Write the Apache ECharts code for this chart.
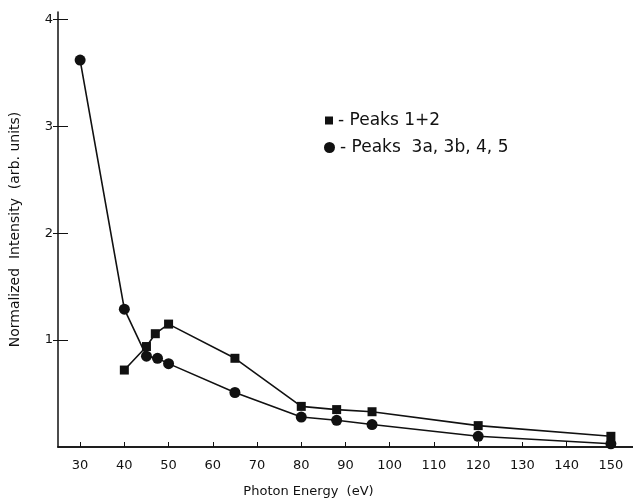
<!DOCTYPE html>
<html lang="en">
<head>
    <meta charset="UTF-8">
    <title>Normalized Intensity vs Photon Energy</title>
    <style>
        html, body {
            margin: 0;
            padding: 0;
            background: #ffffff;
        }
        #chart {
            width: 633px;
            height: 503px;
        }
    </style>
    <script src="https://cdn.jsdelivr.net/npm/echarts@6/dist/echarts.min.js"></script>
</head>
<body>
    <div id="chart"></div>
    <script>
        // Peaks 1+2 (squares)
        const peaks12Energy = [40, 45, 47, 50, 65, 80, 88, 96, 120, 150];
        const peaks12Value = [0.72, 0.94, 1.06, 1.15, 0.83, 0.38, 0.35, 0.33, 0.20, 0.10];
        // Peaks 3a, 3b, 4, 5 (circles)
        const peaks3Energy = [30, 40, 45, 47.5, 50, 65, 80, 88, 96, 120, 150];
        const peaks3Value = [3.62, 1.29, 0.85, 0.83, 0.78, 0.51, 0.28, 0.25, 0.21, 0.10, 0.03];
        // tick labels
        const xTicks = [30, 40, 50, 60, 70, 80, 90, 100, 110, 120, 130, 140, 150];
        const yTicks = [1, 2, 3, 4];

        const font = 'DejaVu Sans';
        const ink = '#111';

        const zip = (xs, ys) => xs.map((x, i) => [x, ys[i]]);

        const chart = echarts.init(document.getElementById('chart'));
        chart.setOption({
            backgroundColor: '#ffffff',
            animation: false,
            grid: { left: 56, right: 0, top: 12, bottom: 47 },
            legend: [
                {
                    left: 320, top: 107, orient: 'vertical',
                    itemWidth: 8, itemHeight: 8,
                    textStyle: { fontFamily: font, fontSize: 17, color: ink },
                    data: [{ name: 'Peaks 1+2', icon: 'rect' }],
                    formatter: n => '- ' + n
                },
                {
                    left: 319, top: 134, orient: 'vertical',
                    itemWidth: 11, itemHeight: 11,
                    textStyle: { fontFamily: font, fontSize: 17, color: ink },
                    data: [{ name: 'Peaks  3a, 3b, 4, 5', icon: 'circle' }],
                    formatter: n => '- ' + n
                }
            ],
            xAxis: [
                {
                    type: 'value', min: 25, max: 155,
                    name: 'Photon Energy  (eV)',
                    nameLocation: 'middle', nameGap: 38,
                    nameTextStyle: { fontFamily: font, fontSize: 13, color: ink, padding: [0, 74, 0, 0] },
                    splitLine: { show: false },
                    axisLine: { lineStyle: { color: ink, width: 1.5 } },
                    axisTick: { inside: true, length: 5, customValues: xTicks, lineStyle: { color: ink } },
                    axisLabel: { customValues: xTicks, margin: 12, fontFamily: font, fontSize: 13, color: ink }
                },
                {
                    type: 'value', min: 25, max: 155, position: 'top',
                    splitLine: { show: false },
                    axisLine: { lineStyle: { color: ink, width: 1.5 } },
                    axisTick: { show: false },
                    axisLabel: { show: false }
                }
            ],
            yAxis: [
                {
                    type: 'value', min: 0, max: 4.07,
                    name: 'Normalized  Intensity  (arb. units)',
                    nameLocation: 'middle', nameGap: 36,
                    nameTextStyle: { fontFamily: font, fontSize: 14, color: ink },
                    splitLine: { show: false },
                    axisLine: { lineStyle: { color: ink, width: 1.5 } },
                    axisTick: { length: 5, customValues: yTicks, lineStyle: { color: ink } },
                    axisLabel: { customValues: yTicks, margin: 5, fontFamily: font, fontSize: 13, color: ink }
                },
                {
                    type: 'value', min: 0, max: 4.07, position: 'left',
                    splitLine: { show: false },
                    axisLine: { show: false },
                    axisTick: { inside: true, length: 10, customValues: yTicks, lineStyle: { color: ink } },
                    axisLabel: { show: false }
                }
            ],
            series: [
                {
                    name: 'Peaks 1+2',
                    type: 'line',
                    data: zip(peaks12Energy, peaks12Value),
                    symbol: 'rect', symbolSize: 9,
                    itemStyle: { color: ink },
                    lineStyle: { color: ink, width: 1.6 },
                    z: 3
                },
                {
                    name: 'Peaks  3a, 3b, 4, 5',
                    type: 'line',
                    data: zip(peaks3Energy, peaks3Value),
                    symbol: 'circle', symbolSize: 11,
                    itemStyle: { color: ink },
                    lineStyle: { color: ink, width: 1.6 },
                    z: 2
                }
            ]
        });
    </script>
</body>
</html>
